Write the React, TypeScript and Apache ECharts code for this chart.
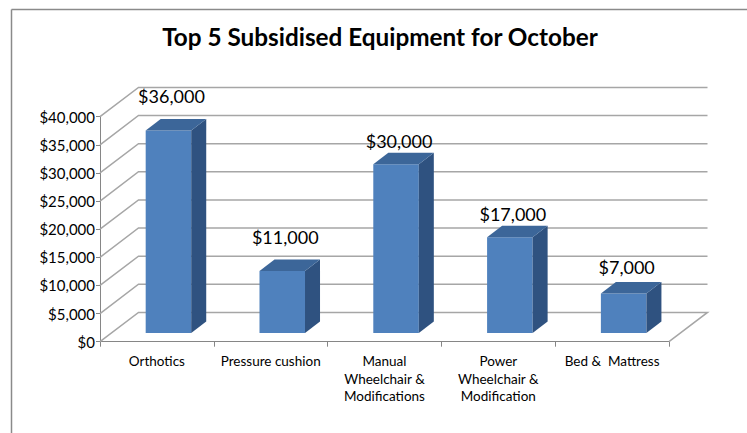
import React, { useEffect, useRef } from 'react';
import * as echarts from 'echarts';

// ---- data ----
const TITLE = 'Top 5 Subsidised Equipment for October';
const CATEGORIES = [
  'Orthotics',
  'Pressure cushion',
  'Manual\nWheelchair &\nModifications',
  'Power\nWheelchair &\nModification',
  'Bed &  Mattress',
];
const VALUES = [36000, 11000, 30000, 17000, 7000];
const Y_TICKS = [0, 5000, 10000, 15000, 20000, 25000, 30000, 35000, 40000];

// ---- style / layout constants ----
const FONT = 'Lato, "Liberation Sans", Arial, sans-serif';
const DEPTH_DX = 38.5;
const DEPTH_DY = 29.3;
const BAR_FRONT = 0.3; // fraction of depth where bar front sits
const BAR_DEPTH = 0.39; // fraction of depth used by bar
const BAR_WIDTH = 0.4; // fraction of category width
const LABEL_LIFT = [34, 34, 23, 23, 27];
const GRID_COLOR = '#a6a6a6';
const AXIS_COLOR = '#868686';
const FRONT = '#4f81bd';
const TOP = '#3c6699';
const SIDE = '#2f5280';

const fmt = (v: number) => '$' + v.toLocaleString('en-US');

export default function App() {
  const ref = useRef<HTMLDivElement>(null);
  useEffect(() => {
    if (!ref.current) return;
    const chart = echarts.init(ref.current, undefined, { renderer: 'svg' });
    const option: any = {
      animation: false,
      backgroundColor: '#ffffff',
      grid: {
        left: 100,
        right: 78,
        top: 116.7,
        bottom: 91.3,
        containLabel: false,
        outerBoundsMode: 'none',
      },
      graphic: [
        {
          type: 'line',
          shape: { x1: 11.5, y1: 9.5, x2: 760, y2: 9.5 },
          style: { stroke: '#8a8a8a', lineWidth: 1.5 },
          silent: true,
        },
        {
          type: 'line',
          shape: { x1: 11.5, y1: 9.5, x2: 11.5, y2: 440 },
          style: { stroke: '#8a8a8a', lineWidth: 1.5 },
          silent: true,
        },
        {
          type: 'text',
          x: 380,
          y: 36.5,
          style: {
            text: TITLE,
            font: `bold 24.3px ${FONT}`,
            fill: '#000',
            textAlign: 'center',
            textVerticalAlign: 'middle',
            align: 'center',
            verticalAlign: 'middle',
          },
        },
      ],
      xAxis: {
        type: 'category',
        data: CATEGORIES,
        boundaryGap: true,
        axisLine: { show: true, lineStyle: { color: AXIS_COLOR, width: 1 } },
        axisTick: { show: true, length: 5, lineStyle: { color: AXIS_COLOR } },
        axisLabel: {
          interval: 0,
          fontFamily: FONT,
          fontSize: 13.5,
          lineHeight: 17.5,
          color: '#000',
          margin: 11,
        },
        splitLine: { show: false },
      },
      yAxis: {
        type: 'value',
        min: 0,
        max: 40000,
        interval: 5000,
        axisLine: { show: true, lineStyle: { color: AXIS_COLOR, width: 1 } },
        axisTick: { show: true, length: 4, lineStyle: { color: AXIS_COLOR } },
        axisLabel: {
          fontFamily: FONT,
          fontSize: 15,
          color: '#000',
          margin: 5,
          formatter: (v: number) => fmt(v),
        },
        splitLine: { show: false },
      },
      series: [
        {
          type: 'custom',
          name: 'walls',
          clip: false,
          z: 1,
          silent: true,
          data: Y_TICKS.map((t) => [0, t]),
          encode: { x: 0, y: 1 },
          renderItem: (params: any, api: any) => {
            const v = api.value(1);
            const cs = params.coordSys;
            const y = api.coord([0, v])[1];
            const x0 = cs.x;
            const x1 = cs.x + cs.width;
            const pts =
              v === 0
                ? [
                    [x0, y],
                    [x0 + DEPTH_DX, y - DEPTH_DY],
                    [x1 + DEPTH_DX, y - DEPTH_DY],
                    [x1, y],
                  ]
                : [
                    [x0, y],
                    [x0 + DEPTH_DX, y - DEPTH_DY],
                    [x1 + DEPTH_DX, y - DEPTH_DY],
                  ];
            return {
              type: 'polyline',
              shape: { points: pts },
              style: { stroke: GRID_COLOR, lineWidth: 1.5, fill: 'none' },
            };
          },
        },
        {
          type: 'custom',
          name: 'bars',
          clip: false,
          z: 3,
          data: VALUES.map((v, i) => [i, v]),
          encode: { x: 0, y: 1 },
          renderItem: (params: any, api: any) => {
            const i = api.value(0);
            const v = api.value(1);
            const top = api.coord([i, v]);
            const bot = api.coord([i, 0]);
            const cw = api.size([1, 0])[0];
            const w = cw * BAR_WIDTH;
            const fx = DEPTH_DX * BAR_FRONT;
            const fy = DEPTH_DY * BAR_FRONT;
            const bx = DEPTH_DX * BAR_DEPTH;
            const by = DEPTH_DY * BAR_DEPTH;
            const L = top[0] + fx - w / 2;
            const R = L + w;
            const yt = top[1] - fy;
            const yb = bot[1] - fy;
            return {
              type: 'group',
              children: [
                {
                  type: 'rect',
                  shape: { x: L, y: yt, width: w, height: yb - yt },
                  style: { fill: FRONT },
                },
                {
                  type: 'polygon',
                  shape: {
                    points: [
                      [R, yt],
                      [R + bx, yt - by],
                      [R + bx, yb - by],
                      [R, yb],
                    ],
                  },
                  style: { fill: SIDE },
                },
                {
                  type: 'polygon',
                  shape: {
                    points: [
                      [L, yt],
                      [R, yt],
                      [R + bx, yt - by],
                      [L + bx, yt - by],
                    ],
                  },
                  style: { fill: TOP },
                },
                {
                  type: 'text',
                  x: top[0] + fx + 3,
                  y: yt - LABEL_LIFT[i],
                  style: {
                    text: fmt(v),
                    font: `18px ${FONT}`,
                    fill: '#000',
                    textAlign: 'center',
                    textVerticalAlign: 'middle',
                    align: 'center',
                    verticalAlign: 'middle',
                  },
                },
              ],
            };
          },
        },
      ],
    };
    chart.setOption(option);
    return () => chart.dispose();
  }, []);
  return (
    <div
      ref={ref}
      style={{ position: 'fixed', left: 0, top: 0, width: 747, height: 433, background: '#fff' }}
    />
  );
}
